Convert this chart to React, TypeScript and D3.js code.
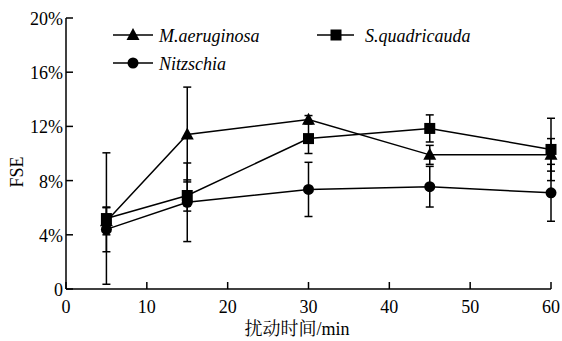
import React from 'react'
import * as d3 from 'd3'

// time points (min)
const times = [5, 15, 30, 45, 60]

// FSE values (%) and error (%)
const maeruginosa = [5.0, 11.4, 12.5, 9.9, 9.9]
const maeruginosaErr = [1.0, 3.5, 0.3, 0.7, 1.2]
const squadricauda = [5.2, 6.9, 11.1, 11.85, 10.3]
const squadricaudaErr = [4.85, 1.15, 1.1, 1.0, 2.3]
const nitzschia = [4.4, 6.4, 7.35, 7.55, 7.1]
const nitzschiaErr = [1.65, 2.9, 2.0, 1.5, 2.1]

const xTicks = [0, 10, 20, 30, 40, 50, 60]
const yTicks = [0, 4, 8, 12, 16, 20]

const series = [
  { name: 'M.aeruginosa', shape: 'triangle', values: maeruginosa, err: maeruginosaErr },
  { name: 'S.quadricauda', shape: 'square', values: squadricauda, err: squadricaudaErr },
  { name: 'Nitzschia', shape: 'circle', values: nitzschia, err: nitzschiaErr },
]

const font = '"Liberation Serif", "Times New Roman", serif'
const cjkFont = '"Liberation Serif", "Noto Serif CJK SC", "Noto Sans CJK SC", serif'

const width = 562
const height = 341
const margin = { left: 66, right: 11, top: 18, bottom: 52 }

const Marker = ({ shape, x, y }: { shape: string; x: number; y: number }) => {
  if (shape === 'triangle') {
    return <path d={`M${x},${y - 7}L${x + 6.5},${y + 5}L${x - 6.5},${y + 5}Z`} fill="#000" />
  }
  if (shape === 'square') {
    return <rect x={x - 5.5} y={y - 5.5} width={11} height={11} fill="#000" />
  }
  return <circle cx={x} cy={y} r={5.5} fill="#000" />
}

export default function App() {
  const xScale = d3.scaleLinear().domain([0, 60]).range([margin.left, width - margin.right])
  const yScale = d3.scaleLinear().domain([0, 20]).range([height - margin.bottom, margin.top])

  const line = d3.line<number>()
    .x((d, i) => xScale(times[i]))
    .y(d => yScale(d))

  const x0 = xScale(0)
  const y0 = yScale(0)
  const tickLen = 7
  const cap = 4

  return (
    <svg width={width} height={height} style={{ position: 'absolute', left: 0, top: 0, background: '#fff' }}>
      {/* axes */}
      <g stroke="#000" strokeWidth={1.5} fill="none">
        <line x1={x0} x2={xScale(60)} y1={y0} y2={y0} />
        <line x1={x0} x2={x0} y1={y0} y2={yScale(20)} />
        {xTicks.map(t => (
          <line key={'xt' + t} x1={xScale(t)} x2={xScale(t)} y1={y0} y2={y0 - tickLen} />
        ))}
        {yTicks.map(t => (
          <line key={'yt' + t} x1={x0} x2={x0 + tickLen} y1={yScale(t)} y2={yScale(t)} />
        ))}
      </g>
      <g fontFamily={font} fontSize={18} fill="#000">
        {xTicks.map(t => (
          <text key={'xl' + t} x={xScale(t)} y={y0 + 24} textAnchor="middle">{t}</text>
        ))}
        {yTicks.map(t => (
          <text key={'yl' + t} x={x0 - 3} y={yScale(t) + 7} textAnchor="end">{t === 0 ? '0' : t + '%'}</text>
        ))}
        <text transform={`translate(23,172) rotate(-90)`} textAnchor="middle">FSE</text>
      </g>
      <text x={297} y={335} textAnchor="middle" fontFamily={cjkFont} fontSize={18}>扰动时间/min</text>

      {/* series */}
      {series.map(s => (
        <g key={s.name}>
          <path d={line(s.values) || ''} fill="none" stroke="#000" strokeWidth={1.5} />
          {s.values.map((v, i) => {
            const x = xScale(times[i])
            const yt = yScale(v + s.err[i])
            const yb = yScale(v - s.err[i])
            return (
              <g key={i} stroke="#000" strokeWidth={1.5}>
                <line x1={x} x2={x} y1={yt} y2={yb} />
                <line x1={x - cap} x2={x + cap} y1={yt} y2={yt} />
                <line x1={x - cap} x2={x + cap} y1={yb} y2={yb} />
              </g>
            )
          })}
          {s.values.map((v, i) => (
            <Marker key={'m' + i} shape={s.shape} x={xScale(times[i])} y={yScale(v)} />
          ))}
        </g>
      ))}

      {/* legend */}
      <g fontFamily={font} fontSize={18} fontStyle="italic">
        {[
          { s: series[0], lx: 113, ly: 35 },
          { s: series[2], lx: 113, ly: 63 },
          { s: series[1], lx: 317, ly: 35 },
        ].map(({ s, lx, ly }) => (
          <g key={'lg' + s.name}>
            <line x1={lx} x2={lx + (s.shape === 'square' ? 37 : 40)} y1={ly} y2={ly} stroke="#000" strokeWidth={1.5} />
            <Marker shape={s.shape} x={lx + (s.shape === 'square' ? 19 : 20)} y={ly} />
            <text x={lx + (s.shape === 'square' ? 48 : 46)} y={ly + 7}>{s.name}</text>
          </g>
        ))}
      </g>
    </svg>
  )
}
